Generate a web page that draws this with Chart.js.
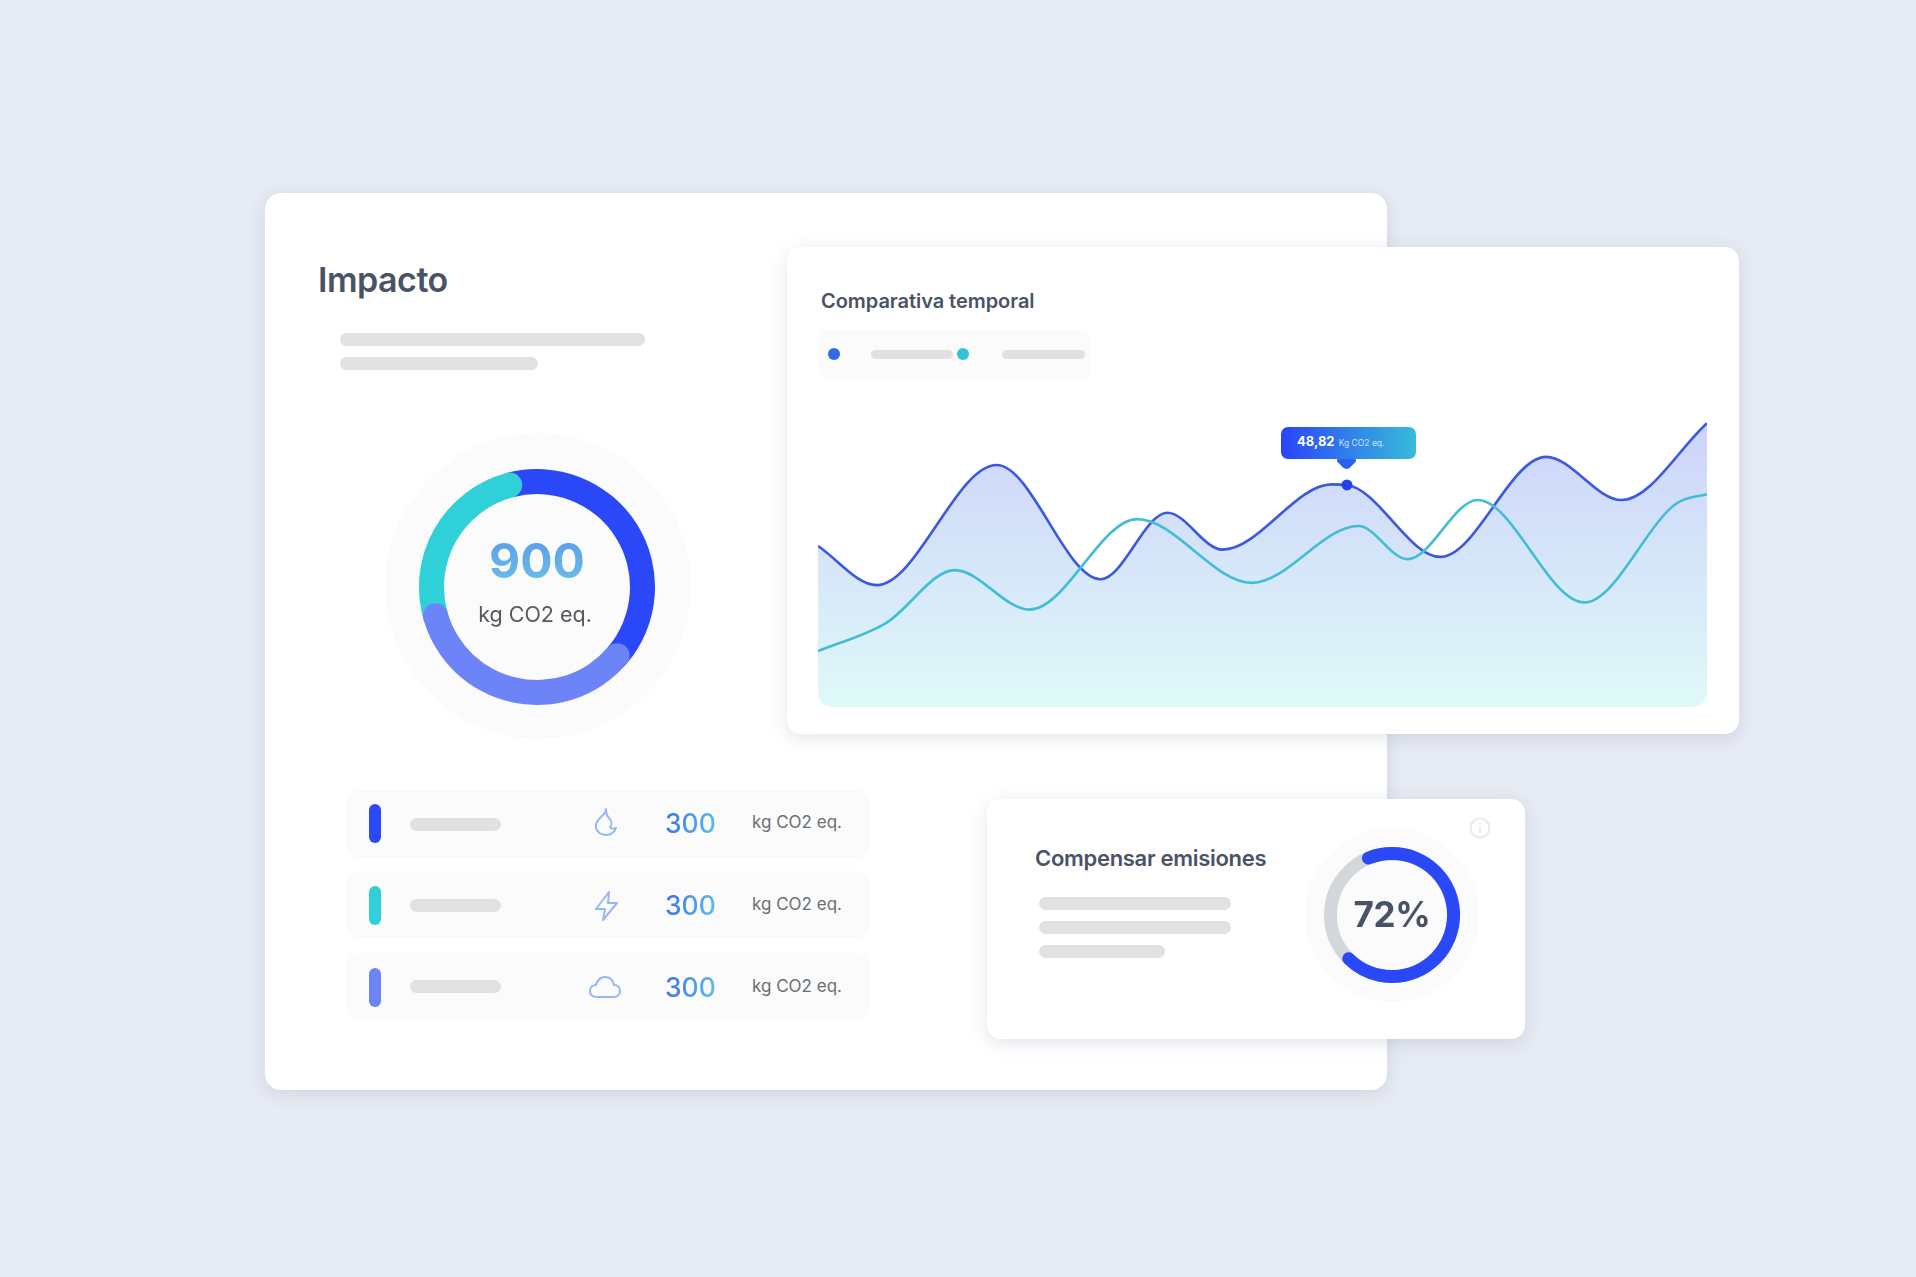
<!DOCTYPE html>
<html lang="es">
<head>
<meta charset="utf-8">
<title>Impacto</title>
<script src="https://cdn.jsdelivr.net/npm/chart.js@4"></script>
<style>
html, body { margin: 0; background: #e7ebf3; }
body { width: 1916px; height: 1277px; position: relative; overflow: hidden; font-family: Inter, sans-serif; color: #4a5365; }
.abs, .card, .bar, .row, .pill, .value, .unit, .icon, canvas, .ring { position: absolute; }
.card { background: #fff; border-radius: 16px; box-shadow: 0 4px 18px rgba(70, 80, 120, .15); }
.bar { background: #e1e1e2; border-radius: 7px; height: 13px; }
.ring { border-radius: 50%; background: #fbfbfc; }
.row { left: 346px; width: 524px; background: #fbfbfc; border-radius: 14px; }
.pill { left: 369px; width: 12px; height: 39px; border-radius: 6px; }
.value { left: 665px; font-size: 26.5px; line-height: 34px; font-weight: 500; background: linear-gradient(100deg, #3c6fe6, #5cc0ee); -webkit-background-clip: text; background-clip: text; color: transparent; }
.unit { left: 752px; font-size: 17px; line-height: 22px; color: #6b6e74; }
.icon { fill: none; stroke: #95b8ee; stroke-width: 2; stroke-linejoin: round; stroke-linecap: round; }
#tip { position: absolute; width: 135px; height: 32px; border-radius: 7px; background: linear-gradient(90deg, #2a44fb, #36bcd8); color: #fff; font-size: 13px; font-weight: 700; line-height: 29px; box-sizing: border-box; padding-left: 16px; white-space: nowrap; }
#tip small { font-size: 8.5px; font-weight: 400; opacity: .75; margin-left: 1px; }
#tipArrow { position: absolute; width: 15px; height: 15px; background: #2a62ef; border-radius: 3px 3px 5px 3px; transform: rotate(45deg); }
</style>
</head>
<body>

<div class="card" style="left:265px;top:193px;width:1122px;height:897px"></div>
<div class="abs" style="left:318px;top:258px;font-size:34px;line-height:44px;font-weight:600;letter-spacing:-.5px">Impacto</div>
<div class="bar" style="left:340px;top:333px;width:305px"></div>
<div class="bar" style="left:340px;top:357px;width:198px"></div>

<div class="ring" style="left:385px;top:433px;width:306px;height:306px"></div>
<canvas id="mixChart" width="236" height="236" style="left:419px;top:469px"></canvas>
<div class="abs" style="left:437px;top:531px;width:200px;text-align:center;font-size:48px;line-height:60px;font-weight:700;background:linear-gradient(180deg,#5a98e6,#6cc4ea);-webkit-background-clip:text;background-clip:text;color:transparent">900</div>
<div class="abs" style="left:435px;top:600px;width:200px;text-align:center;font-size:21.5px;line-height:28px;color:#55585e">kg CO2 eq.</div>

<div class="row" style="top:790px;height:68px"></div>
<div class="row" style="top:871px;height:67px"></div>
<div class="row" style="top:953px;height:67px"></div>
<div class="pill" style="top:804px;background:#2b48f8"></div>
<div class="pill" style="top:886px;background:#2fd0d8"></div>
<div class="pill" style="top:968px;background:#6c84f7"></div>
<div class="bar" style="left:410px;top:818px;width:91px"></div>
<div class="bar" style="left:410px;top:899px;width:91px"></div>
<div class="bar" style="left:410px;top:980px;width:91px"></div>
<svg class="icon" style="left:590px;top:806px" width="30" height="32" viewBox="0 0 30 32"><path d="M16 3c0 4 -2 5 -5 8c-3 3 -6 6 -5 11c1 4 5 7 10 7c5 0 9 -3 10 -7c-2 1 -5 1 -6 -1c3 -3 1 -7 -1 -9c-2 -2 -3 -5 -3 -9z"/></svg>
<svg class="icon" style="left:592px;top:890px" width="30" height="32" viewBox="0 0 30 32"><path d="M17 2l-13 17h9l-2 11l14 -17h-9z"/></svg>
<svg class="icon" style="left:588px;top:974px" width="34" height="26" viewBox="0 0 34 26"><path d="M9 23c-4 0 -7 -2 -7 -6c0 -4 3 -6 6 -6c1 -5 5 -8 9 -8c5 0 8 3 9 8c4 0 6 3 6 6c0 4 -3 6 -6 6z"/></svg>
<div class="value" style="top:806px">300</div>
<div class="value" style="top:888px">300</div>
<div class="value" style="top:970px">300</div>
<div class="unit" style="top:811px">kg CO2 eq.</div>
<div class="unit" style="top:893px">kg CO2 eq.</div>
<div class="unit" style="top:975px">kg CO2 eq.</div>

<div class="card" style="left:787px;top:247px;width:952px;height:487px;border-radius:14px"></div>
<div class="abs" style="left:821px;top:288px;font-size:20px;line-height:26px;font-weight:600;letter-spacing:-.05px;white-space:nowrap">Comparativa temporal</div>
<div class="abs" style="left:819px;top:330px;width:272px;height:49px;background:#fbfbfc;border-radius:10px"></div>
<div class="abs" style="left:828px;top:348px;width:12px;height:12px;border-radius:50%;background:#2f6be8"></div>
<div class="abs" style="left:957px;top:348px;width:12px;height:12px;border-radius:50%;background:#35bfd9"></div>
<div class="bar" style="left:871px;top:350px;width:82px;height:9px"></div>
<div class="bar" style="left:1002px;top:350px;width:83px;height:9px"></div>
<canvas id="timeChart" width="889" height="307" style="left:818px;top:400px;border-radius:0 0 14px 14px"></canvas>
<div id="tipArrow"></div>
<div id="tip"></div>

<div class="card" style="left:987px;top:799px;width:538px;height:240px;border-radius:14px"></div>
<div class="abs" style="left:1035px;top:843px;font-size:22px;line-height:30px;font-weight:600;letter-spacing:-.3px;white-space:nowrap">Compensar emisiones</div>
<div class="bar" style="left:1039px;top:897px;width:192px"></div>
<div class="bar" style="left:1039px;top:921px;width:192px"></div>
<div class="bar" style="left:1039px;top:945px;width:126px"></div>
<div class="ring" style="left:1305px;top:828px;width:174px;height:174px"></div>
<canvas id="offsetChart" width="136" height="136" style="left:1324px;top:847px"></canvas>
<div class="abs" style="left:1332px;top:892px;width:120px;text-align:center;font-size:35px;line-height:44px;font-weight:700;letter-spacing:-.3px">72%</div>
<svg class="abs" style="left:1469px;top:817px" width="22" height="22" viewBox="0 0 22 22" fill="none" stroke="#e6e8ea" stroke-width="2"><circle cx="11" cy="11" r="9.5"/><path d="M11 10v6M11 6v1.5"/></svg>

<script>
// donut on the left, arc lengths (shares of the 900 total)
const mixLabels = ['Combustible', 'Electricidad', 'Otros'];
const mixValues = [364, 309, 227];
const mixColors = ['#2b48f8', '#6c84f7', '#2fd0d8'];

// comparativa temporal, x runs 0-100 along the chart, only the turning points are listed
const blueTimes = [0, 6.6, 20.1, 31.8, 39.3, 45.5, 57.8, 59.5, 70, 81.9, 90.4, 100];
const blueValues = [35.4, 26.8, 53.2, 28.1, 42.7, 34.6, 48.95, 48.82, 33, 55, 45.5, 62.4];
const tealTimes = [0, 7.6, 15.4, 23.8, 35.9, 48.8, 60.8, 66.3, 74.2, 86.2, 96.6, 100];
const tealValues = [12.3, 18.4, 30.1, 21.4, 41.3, 27.3, 39.8, 32.5, 45.5, 23, 44.8, 46.8];
const tipValue = 48.82;
const tipUnit = 'Kg CO2 eq.';

// small gauge
const offsetValues = [72, 28];

function toPoints(xs, ys) {
    return xs.map(function(x, i) { return { x: x, y: ys[i] }; });
}

function drawCap(ctx, arc, angle, color) {
    const r = (arc.innerRadius + arc.outerRadius) / 2;
    const size = (arc.outerRadius - arc.innerRadius) / 2;
    ctx.fillStyle = color;
    ctx.beginPath();
    ctx.arc(arc.x + Math.cos(angle) * r, arc.y + Math.sin(angle) * r, size, 0, Math.PI * 2);
    ctx.fill();
}

// segments overlap with round ends in the reference
const roundEnds = {
    id: 'roundEnds',
    afterDatasetsDraw(chart) {
        const arcs = chart.getDatasetMeta(0).data;
        const ctx = chart.ctx;
        drawCap(ctx, arcs[2], arcs[2].endAngle, mixColors[2]);
        drawCap(ctx, arcs[1], arcs[1].startAngle, mixColors[1]);
        drawCap(ctx, arcs[1], arcs[1].endAngle, mixColors[1]);
    }
};

const gaugeTrack = {
    id: 'gaugeTrack',
    beforeDatasetsDraw(chart) {
        const arc = chart.getDatasetMeta(0).data[0];
        const ctx = chart.ctx;
        ctx.strokeStyle = '#d3d6da';
        ctx.lineWidth = arc.outerRadius - arc.innerRadius;
        ctx.beginPath();
        ctx.arc(arc.x, arc.y, (arc.innerRadius + arc.outerRadius) / 2, 0, Math.PI * 2);
        ctx.stroke();
    }
};

new Chart(document.getElementById('mixChart'), {
    type: 'doughnut',
    data: {
        labels: mixLabels,
        datasets: [{ data: mixValues, backgroundColor: mixColors, borderWidth: 0 }]
    },
    options: {
        responsive: false,
        animation: false,
        rotation: -15,
        cutout: '78.8%',
        plugins: { legend: { display: false }, tooltip: { enabled: false } }
    },
    plugins: [roundEnds]
});

new Chart(document.getElementById('offsetChart'), {
    type: 'doughnut',
    data: {
        labels: ['Compensado', 'Pendiente'],
        datasets: [{
            data: offsetValues,
            backgroundColor: ['#2b48f8', 'rgba(0,0,0,0)'],
            borderWidth: 0,
            borderRadius: [7, 0]
        }]
    },
    options: {
        responsive: false,
        animation: false,
        rotation: -28.5,
        cutout: '81%',
        plugins: { legend: { display: false }, tooltip: { enabled: false } }
    },
    plugins: [gaugeTrack]
});

const timeCanvas = document.getElementById('timeChart');
const areaFill = timeCanvas.getContext('2d').createLinearGradient(0, 20, 0, 307);
areaFill.addColorStop(0, '#cdd3fa');
areaFill.addColorStop(1, '#dff9f8');
const tipIndex = blueValues.indexOf(tipValue);

const timeChart = new Chart(timeCanvas, {
    type: 'line',
    data: {
        datasets: [{
            label: 'Serie 2',
            data: toPoints(tealTimes, tealValues),
            borderColor: '#42bdd8',
            borderWidth: 2.6,
            pointRadius: 0,
            cubicInterpolationMode: 'monotone',
            fill: false
        }, {
            label: 'Serie 1',
            data: toPoints(blueTimes, blueValues),
            borderColor: '#3b58e0',
            borderWidth: 2.6,
            backgroundColor: areaFill,
            pointRadius: function(ctx) { return ctx.dataIndex === tipIndex ? 5.5 : 0; },
            pointBackgroundColor: '#2540ee',
            pointBorderWidth: 0,
            cubicInterpolationMode: 'monotone',
            fill: 'origin'
        }]
    },
    options: {
        responsive: false,
        animation: false,
        scales: {
            x: { type: 'linear', min: 0, max: 100, display: false },
            y: { min: 0, max: 67.5, display: false }
        },
        plugins: { legend: { display: false }, tooltip: { enabled: false } }
    }
});

// callout sits over the highlighted point
const tipX = timeCanvas.offsetLeft + timeChart.scales.x.getPixelForValue(blueTimes[tipIndex]);
const tipY = timeCanvas.offsetTop + timeChart.scales.y.getPixelForValue(tipValue);
const tip = document.getElementById('tip');
tip.innerHTML = String(tipValue).replace('.', ',') + ' <small>' + tipUnit + '</small>';
tip.style.left = (tipX - 66) + 'px';
tip.style.top = (tipY - 58) + 'px';
const tipArrow = document.getElementById('tipArrow');
tipArrow.style.left = (tipX - 7.5) + 'px';
tipArrow.style.top = (tipY - 32) + 'px';
</script>
</body>
</html>
